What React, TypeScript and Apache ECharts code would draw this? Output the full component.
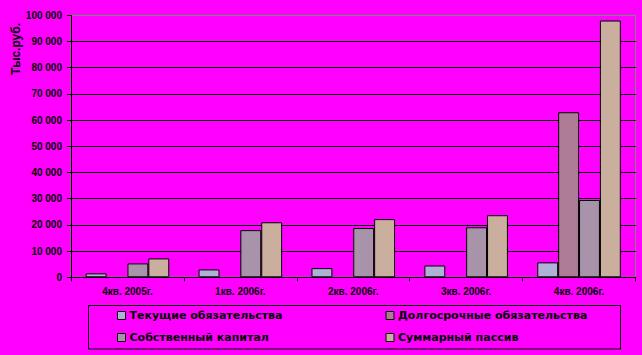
import React, { useEffect, useRef } from "react";
import * as echarts from "echarts";

const categories = ["4кв. 2005г.", "1кв. 2006г.", "2кв. 2006г.", "3кв. 2006г.", "4кв. 2006г."];
const seriesNames = ["Текущие обязательства", "Долгосрочные обязательства", "Собственный капитал", "Суммарный пассив"];
const currentLiab = [1500, 3000, 3500, 4500, 5700];
const longTermLiab = [null, null, null, null, 63000];
const equity = [5300, 18000, 18800, 19100, 29500];
const totalLiab = [7200, 21000, 22200, 23700, 98000];
const colors = ["#B0B0D8", "#AE7B96", "#A893AA", "#CAAE9E"];
const yTitle = "Тыс.руб.";

const fmt = (v: number) => {
  const s = String(v);
  return s.replace(/\B(?=(\d{3})+(?!\d))/g, " ");
};

export default function App() {
  const ref = useRef<HTMLDivElement>(null);
  useEffect(() => {
    if (!ref.current) return;
    const chart = echarts.init(ref.current, undefined, { renderer: "svg" });
    const font = "'Liberation Sans', Arial, sans-serif";
    const legendFont = "'DejaVu Sans', 'Liberation Sans', sans-serif";
    const data = [currentLiab, longTermLiab, equity, totalLiab];
    const legendPos = [
      { left: 117, top: 310 },
      { left: 385.5, top: 310 },
      { left: 117, top: 332 },
      { left: 385.5, top: 332 },
    ];
    chart.setOption({
      animation: false,
      backgroundColor: "#FF00FF",
      textStyle: { fontFamily: font },
      grid: {
        left: 71,
        right: 6.5,
        top: 15.3,
        bottom: 77.7,
        show: true,
        borderColor: "#808080",
        borderWidth: 1,
        backgroundColor: "transparent",
      },
      legend: seriesNames.map((n, i) => ({
        data: [n],
        left: legendPos[i].left,
        top: legendPos[i].top,
        icon: "rect",
        itemWidth: 8,
        itemHeight: 8,
        itemGap: 0,
        padding: 0,
        selectedMode: false,
        itemStyle: { borderColor: "#000", borderWidth: 1 },
        textStyle: { fontFamily: legendFont, fontSize: 11, fontWeight: "bold", color: "#000", padding: [0, 0, 0, -1] },
      })),
      xAxis: {
        type: "category",
        data: categories,
        axisLine: { lineStyle: { color: "#000", width: 1 } },
        axisTick: { show: true, length: 4, lineStyle: { color: "#000" } },
        axisLabel: { fontFamily: font, fontSize: 10, fontWeight: "bold", color: "#000", margin: 9 },
        splitLine: { show: false },
      },
      yAxis: {
        type: "value",
        min: 0,
        max: 100000,
        interval: 10000,
        axisLine: { show: true, lineStyle: { color: "#000", width: 1 } },
        axisTick: { show: true, length: 4, lineStyle: { color: "#000" } },
        axisLabel: {
          fontFamily: font,
          fontSize: 10,
          fontWeight: "bold",
          color: "#000",
          margin: 9,
          formatter: (v: number) => fmt(v),
        },
        splitLine: {
          show: true,
          lineStyle: {
            color: ["#000", "#000", "#000", "#000", "#000", "#000", "#000", "#000", "#000", "#000", "#808080"],
            width: 1,
          },
        },
      },
      series: seriesNames.map((n, i) => ({
        name: n,
        type: "bar",
        data: data[i],
        barGap: "0%",
        barCategoryGap: "26%",
        itemStyle: { color: colors[i], borderColor: "#000", borderWidth: 1 },
      })),
      graphic: [
        {
          type: "rect",
          shape: { x: 88.5, y: 305.5, width: 532, height: 43.5 },
          style: { fill: "none", stroke: "#000", lineWidth: 1 },
          silent: true,
        },
        {
          type: "text",
          x: 15.5,
          y: 49,
          rotation: Math.PI / 2,
          style: {
            text: yTitle,
            fontFamily: font,
            fontSize: 12,
            fontWeight: "bold",
            fill: "#000",
            align: "center",
            verticalAlign: "middle",
          },
        },
      ],
    });
    return () => chart.dispose();
  }, []);
  return <div ref={ref} style={{ width: 642, height: 355, position: "absolute", left: 0, top: 0 }} />;
}
